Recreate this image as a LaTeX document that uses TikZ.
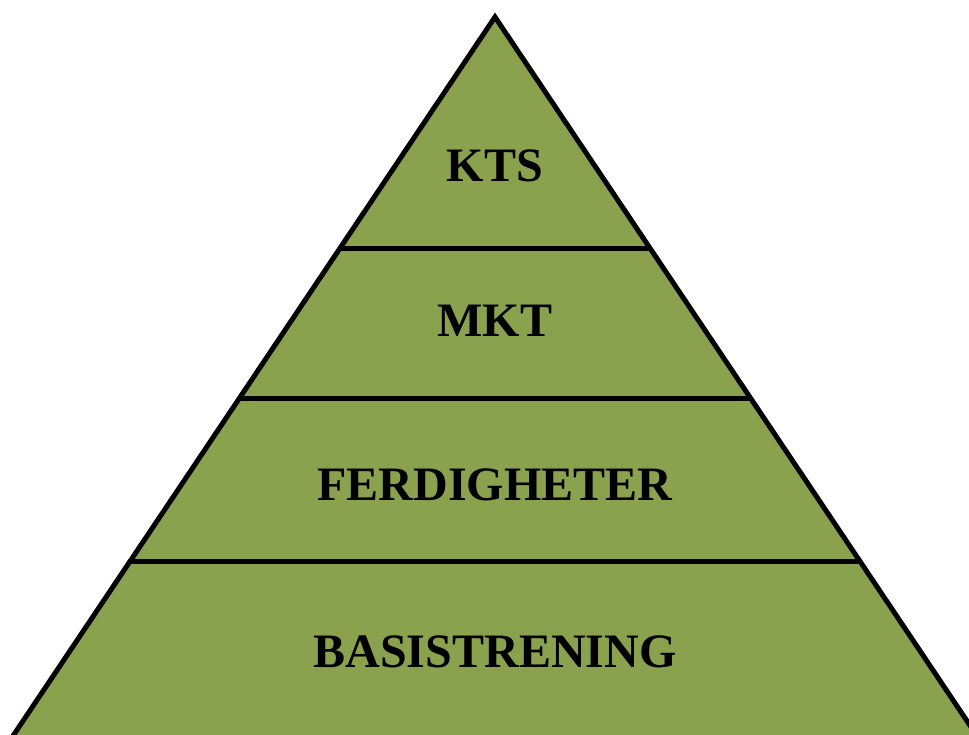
\documentclass[tikz,border=0pt]{standalone}
\usepackage{fontspec}
\setmainfont{Liberation Serif}
\usetikzlibrary{calc}
\definecolor{pyrgreen}{RGB}{138,162,78}
\tikzset{
  edge/.style={line width=5pt, draw=black},
  lbl/.style={font=\bfseries\fontsize{48}{48}\selectfont, text=black, anchor=base, inner sep=0pt}
}
\begin{document}
\begin{tikzpicture}[x=1pt,y=-1pt]
\useasboundingbox (0,0) rectangle (969,735);
\clip (0,0) rectangle (969,735);
\coordinate (apex) at (495,17);
\coordinate (bl) at (-30,800);
\coordinate (br) at (1020,800);
\draw[edge, fill=pyrgreen, line join=miter] (apex) -- (br) -- (bl) -- cycle;
% level lines
\coordinate (l1) at ($(apex)!{(249-17)/783}!(bl)$);
\coordinate (r1) at ($(apex)!{(249-17)/783}!(br)$);
\coordinate (l2) at ($(apex)!{(399-17)/783}!(bl)$);
\coordinate (r2) at ($(apex)!{(399-17)/783}!(br)$);
\coordinate (l3) at ($(apex)!{(561-17)/783}!(bl)$);
\coordinate (r3) at ($(apex)!{(561-17)/783}!(br)$);
\draw[edge] (l1) -- (r1);
\draw[edge] (l2) -- (r2);
\draw[edge] (l3) -- (r3);
\node[lbl] (kts) at (495,182) {KTS};
\node[lbl] (mkt) at (495,337) {MKT};
\node[lbl] (ferd) at (495,500) {FERDIGHETER};
\node[lbl] (basis) at (495,667) {BASISTRENING};
\end{tikzpicture}
\end{document}
